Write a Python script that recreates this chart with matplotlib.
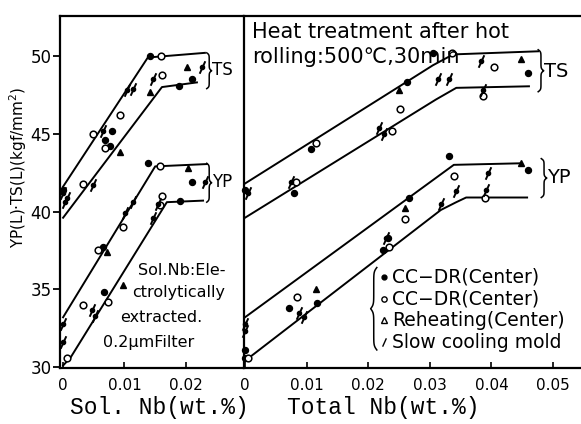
import numpy as np
import matplotlib.pyplot as plt
from matplotlib.path import Path

# ---- band lines, soluble Nb panel ----
sol_ts_hi_x = [0, 0.0138, 0.0231]
sol_ts_hi_y = [41.6, 49.9, 50.2]
sol_ts_lo_x = [0, 0.0161, 0.0218]
sol_ts_lo_y = [39.6, 48.0, 48.3]
sol_yp_hi_x = [0, 0.0150, 0.0234]
sol_yp_hi_y = [33.2, 42.9, 43.05]
sol_yp_lo_x = [0, 0.0012, 0.0169, 0.0228]
sol_yp_lo_y = [30.1, 30.6, 40.6, 40.7]

# ---- band lines, total Nb panel ----
tot_ts_hi_x = [0, 0.0261, 0.0305, 0.0338, 0.0476]
tot_ts_hi_y = [41.8, 48.3, 49.4, 50.1, 50.3]
tot_ts_lo_x = [0, 0.0310, 0.0343, 0.0461]
tot_ts_lo_y = [39.6, 47.2, 47.95, 48.05]
tot_yp_hi_x = [0, 0.0339, 0.0448]
tot_yp_hi_y = [33.2, 43.0, 43.1]
tot_yp_lo_x = [0, 0.0318, 0.0343, 0.0359, 0.0458]
tot_yp_lo_y = [30.4, 40.1, 40.6, 40.9, 40.9]

# ---- points, soluble Nb panel ----
sol_filled_x = [0.0141, 0.0189, 0.0210, 0.0080, 0.0068, 0.0076, 0.0,
                0.0138, 0.0210, 0.0190, 0.0065, 0.0067]
sol_filled_y = [50.0, 48.1, 48.5, 45.2, 44.6, 44.2, 41.4,
                43.1, 41.9, 40.7, 37.7, 34.8]
sol_open_x = [0.0159, 0.0161, 0.0093, 0.0049, 0.0068, 0.0033,
              0.0158, 0.0161, 0.0158, 0.0098, 0.0057, 0.0073, 0.0033, 0.0007]
sol_open_y = [50.0, 48.8, 46.2, 45.0, 44.1, 41.8,
              42.9, 41.0, 40.4, 39.0, 37.5, 34.2, 34.0, 30.6]
sol_tri_x = [0.0202, 0.0093, 0.0141, 0.0203, 0.0098, 0.0072]
sol_tri_y = [49.3, 43.8, 47.7, 42.8, 35.3, 37.4]
sol_slash_x = [0.0226, 0.0146, 0.0104, 0.0114, 0.0065, 0.0049, 0.0006, 0.0, 0.0003,
               0.0231, 0.0154, 0.0146, 0.0114, 0.0101, 0.0047, 0.0052, 0.0, 0.0]
sol_slash_y = [49.3, 48.5, 47.8, 47.9, 45.2, 41.7, 40.9, 41.2, 40.6,
               41.9, 40.5, 39.6, 40.6, 39.9, 33.7, 33.3, 32.8, 31.6]

# ---- points, total Nb panel ----
tot_filled_x = [0.0305, 0.0459, 0.0263, 0.0107, 0.0080, 0.0,
                0.0331, 0.0459, 0.0266, 0.0224, 0.0232, 0.0071, 0.0117, 0.0, 0.0]
tot_filled_y = [50.2, 48.9, 48.3, 44.0, 41.2, 41.4,
                43.6, 42.7, 40.9, 37.5, 38.3, 33.8, 34.1, 31.1, 30.6]
tot_open_x = [0.0336, 0.0404, 0.0386, 0.0252, 0.0239, 0.0115, 0.0083,
              0.0339, 0.0390, 0.0260, 0.0234, 0.0084, 0.0005]
tot_open_y = [50.2, 49.3, 47.4, 46.6, 45.2, 44.4, 41.9,
              42.3, 40.9, 39.5, 37.7, 34.5, 30.6]
tot_tri_x = [0.0448, 0.0250, 0.0448, 0.0260, 0.0115]
tot_tri_y = [49.8, 47.8, 43.1, 40.2, 35.0]
tot_slash_x = [0.0383, 0.0313, 0.0331, 0.0386, 0.0218, 0.0226, 0.0075, 0.0005,
               0.0394, 0.0342, 0.0318, 0.0391, 0.0229, 0.0088, 0.0096, 0.0, 0.0]
tot_slash_y = [49.7, 48.5, 48.5, 47.8, 45.4, 45.0, 41.9, 41.2,
               42.5, 41.3, 40.5, 41.4, 38.3, 33.5, 33.2, 32.8, 32.3]

legend_labels = ["CC\u2212DR(Center)", "CC\u2212DR(Center)",
                 "Reheating(Center)", "Slow cooling mold"]

slash = Path([(-0.45, -1), (0.45, 1)], [Path.MOVETO, Path.LINETO])


def draw_marks(ax, fx, fy, ox, oy, tx, ty, sx, sy):
    ax.plot(fx, fy, "o", color="k", ms=4.3, ls="none", clip_on=False)
    ax.plot(ox, oy, "o", mfc="white", mec="k", mew=1.1, ms=4.8, ls="none", clip_on=False)
    ax.plot(tx, ty, "^", color="k", ms=5, ls="none", clip_on=False)
    ax.plot(sx, sy, "o", color="k", ms=3, ls="none", clip_on=False)
    ax.plot(sx, sy, marker=slash, color="k", ms=9, mew=1.4, ls="none", clip_on=False)


def brace(ax, x, y1, y2, w, beta=40):
    t = np.linspace(0, 1, 101)
    half = t[:51]
    b = 1/(1+np.exp(-beta*(half-half[0]))) + 1/(1+np.exp(-beta*(half-half[-1])))
    prof = np.concatenate((b, b[-2::-1])) - 0.5
    ax.plot(x + w*prof, y1 + t*(y2-y1), color="k", lw=1.1, clip_on=False)


fig = plt.figure(figsize=(5.81, 4.24), dpi=100)
ax1 = fig.add_axes([0.1033, 0.1321, 0.3149, 0.8302])
ax2 = fig.add_axes([0.4200, 0.1321, 0.5800, 0.8302])

for ax in (ax1, ax2):
    ax.set_ylim(29.94, 52.57)
    for s in ax.spines.values():
        s.set_linewidth(1.6)
    ax.spines["right"].set_visible(False)

ax1.set_xlim(-0.0005, 0.0293)
ax2.set_xlim(-0.00016, 0.05455)

lw = 1.4
ax1.plot(sol_ts_hi_x, sol_ts_hi_y, "k-", lw=lw)
ax1.plot(sol_ts_lo_x, sol_ts_lo_y, "k-", lw=lw)
ax1.plot(sol_yp_hi_x, sol_yp_hi_y, "k-", lw=lw)
ax1.plot(sol_yp_lo_x, sol_yp_lo_y, "k-", lw=lw)
ax2.plot(tot_ts_hi_x, tot_ts_hi_y, "k-", lw=lw)
ax2.plot(tot_ts_lo_x, tot_ts_lo_y, "k-", lw=lw)
ax2.plot(tot_yp_hi_x, tot_yp_hi_y, "k-", lw=lw)
ax2.plot(tot_yp_lo_x, tot_yp_lo_y, "k-", lw=lw)

draw_marks(ax1, sol_filled_x, sol_filled_y, sol_open_x, sol_open_y,
           sol_tri_x, sol_tri_y, sol_slash_x, sol_slash_y)
draw_marks(ax2, tot_filled_x, tot_filled_y, tot_open_x, tot_open_y,
           tot_tri_x, tot_tri_y, tot_slash_x, tot_slash_y)

# axes ticks
ax1.set_yticks([30, 35, 40, 45, 50])
ax1.set_yticklabels(["30", "35", "40", "45", "50"])
ax1.tick_params(axis="y", direction="out", length=5, width=1.3, labelsize=12, pad=1)
ax1.set_xticks([0, 0.01, 0.02])
ax1.set_xticklabels(["0", "0.01", "0.02"])
ax1.tick_params(axis="x", direction="in", length=4, width=1.2, labelsize=11, pad=7)
ax2.set_yticks([])
ax2.set_xticks([0, 0.01, 0.02, 0.03, 0.04, 0.05])
ax2.set_xticklabels(["0", "0.01", "0.02", "0.03", "0.04", "0.05"])
ax2.tick_params(axis="x", direction="in", length=4, width=1.2, labelsize=11, pad=7)

# braces and band names
brace(ax1, 0.0234, 50.2, 47.9, 0.0008)
ax1.text(0.0242, 49.1, "TS", fontsize=12, va="center", ha="left")
brace(ax1, 0.0234, 43.1, 40.6, 0.0008)
ax1.text(0.0242, 41.9, "YP", fontsize=12, va="center", ha="left")
brace(ax2, 0.0476, 50.4, 47.7, 0.0009)
ax2.text(0.0486, 49.0, "TS", fontsize=14, va="center", ha="left")
brace(ax2, 0.0481, 43.4, 40.9, 0.0009)
ax2.text(0.0490, 42.2, "YP", fontsize=14, va="center", ha="left")

# notes
ax2.text(0.0011, 52.2, "Heat treatment after hot\nrolling:500\u2103,30min",
         fontsize=15, va="top", ha="left", linespacing=1.35)
ax1.text(0.0122, 36.2, "Sol.Nb:Ele-", fontsize=11.5, va="center", ha="left")
ax1.text(0.0112, 34.8, "ctrolytically", fontsize=11.5, va="center", ha="left")
ax1.text(0.0093, 33.2, "extracted.", fontsize=11.5, va="center", ha="left")
ax1.text(0.0065, 31.6, "0.2\u03bcmFilter", fontsize=11.5, va="center", ha="left")

# legend drawn by hand
leg_y = [35.8, 34.4, 33.0, 31.6]
brace(ax2, 0.0214, 36.4, 31.1, -0.0010)
ax2.plot([0.0226], [leg_y[0]], "o", color="k", ms=3.5)
ax2.plot([0.0226], [leg_y[1]], "o", mfc="white", mec="k", ms=3.8, mew=1)
ax2.plot([0.0226], [leg_y[2]], "^", mfc="white", mec="k", ms=4.2, mew=1)
ax2.plot([0.0226], [leg_y[3]], marker=slash, color="k", ms=6, mew=1)
for yy, lab in zip(leg_y, legend_labels):
    ax2.text(0.0239, yy, lab, fontsize=13.5, va="center", ha="left")

fig.text(0.032, 0.606, "YP(L)\u00b7TS(L)(kgf/mm$^2$)", rotation=90,
         fontsize=11, ha="center", va="center")
fig.text(0.274, 0.038, "Sol. Nb(wt.%)", family="Liberation Mono",
         fontsize=16.5, ha="center", va="center")
fig.text(0.659, 0.038, "Total Nb(wt.%)", family="Liberation Mono",
         fontsize=16.5, ha="center", va="center")

fig.savefig("out.png", dpi=100)
